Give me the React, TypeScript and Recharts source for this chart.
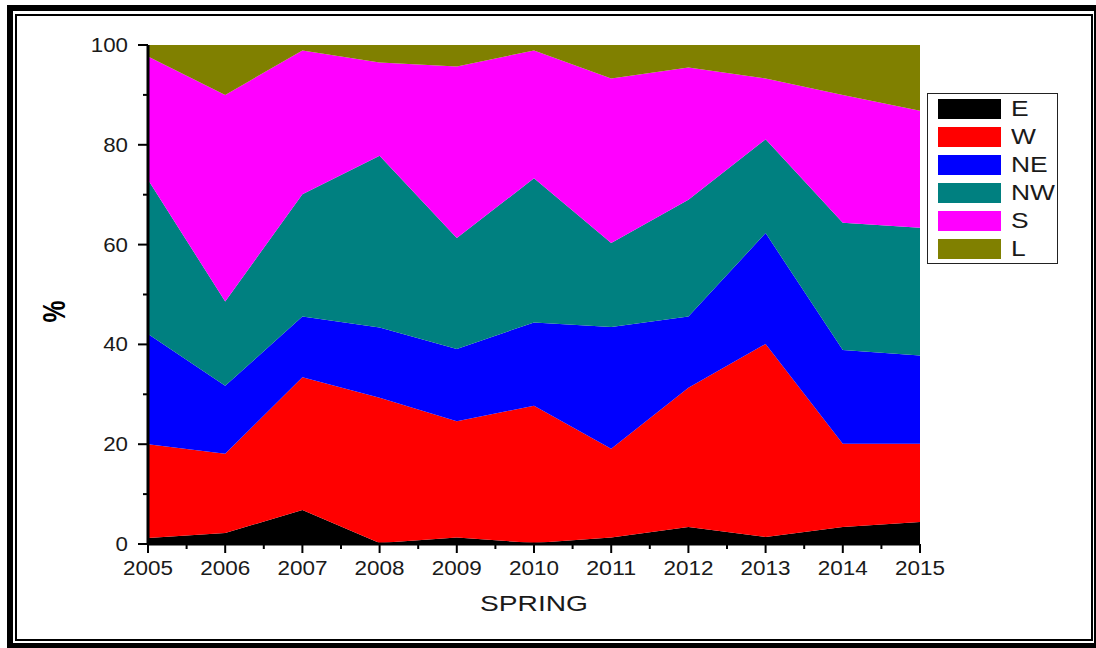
import React from "react";
import { AreaChart, Area, XAxis, YAxis, Label } from "recharts";

const years = [2005, 2006, 2007, 2008, 2009, 2010, 2011, 2012, 2013, 2014, 2015];
const E = [1.2, 2.2, 6.8, 0.2, 1.3, 0.2, 1.3, 3.4, 1.4, 3.4, 4.4];
const W = [18.8, 15.9, 26.6, 29.1, 23.3, 27.5, 17.8, 27.9, 38.7, 16.7, 15.7];
const NE = [22.1, 13.6, 12.2, 14.1, 14.5, 16.7, 24.4, 14.3, 22.2, 18.8, 17.7];
const NW = [30.9, 16.9, 24.5, 34.4, 22.2, 28.9, 16.8, 23.4, 18.8, 25.5, 25.6];
const S = [24.7, 41.4, 28.8, 18.7, 34.4, 25.6, 33.0, 26.5, 12.2, 25.6, 23.4];
const L = [2.3, 10.0, 1.1, 3.5, 4.3, 1.1, 6.7, 4.5, 6.7, 10.0, 13.2];

const seriesNames = ["E", "W", "NE", "NW", "S", "L"];
const seriesValues = [E, W, NE, NW, S, L];
const seriesColors = ["#000000", "#FF0000", "#0000FF", "#008080", "#FF00FF", "#808000"];

const xTicks = [2005, 2005.5, 2006, 2006.5, 2007, 2007.5, 2008, 2008.5, 2009, 2009.5, 2010, 2010.5, 2011, 2011.5, 2012, 2012.5, 2013, 2013.5, 2014, 2014.5, 2015];
const yTicks = [0, 10, 20, 30, 40, 50, 60, 70, 80, 90, 100];

const data = years.map((y, i) => {
  const row: any = { year: y };
  seriesNames.forEach((n, k) => {
    row[n] = seriesValues[k][i];
  });
  return row;
});

const FONT = "'Liberation Sans', Arial, Helvetica, sans-serif";

const XTick = (props: any) => {
  const { x, y, payload } = props;
  const v = payload.value;
  const major = Number.isInteger(v);
  return (
    <g>
      <line x1={x} x2={x} y1={y} y2={y + (major ? 9 : 5)} stroke="#000" strokeWidth={2} />
      {major && (
        <text
          x={x}
          y={y + 31}
          textAnchor="middle"
          fontSize={20}
          fontFamily={FONT}
          fill="#1a1a1a"
          textLength={50}
          lengthAdjust="spacingAndGlyphs"
        >
          {v}
        </text>
      )}
    </g>
  );
};

const YTick = (props: any) => {
  const { x, y, payload } = props;
  const v = payload.value;
  const major = v % 20 === 0;
  const s = String(v);
  return (
    <g>
      <line x1={x - (major ? 10 : 5)} x2={x} y1={y} y2={y} stroke="#000" strokeWidth={2} />
      {major && (
        <text
          x={x - 20}
          y={y + 7}
          textAnchor="end"
          fontSize={20}
          fontFamily={FONT}
          fill="#1a1a1a"
          textLength={12.4 * s.length}
          lengthAdjust="spacingAndGlyphs"
        >
          {s}
        </text>
      )}
    </g>
  );
};

const XLabel = (props: any) => {
  const vb = props.viewBox || { x: 0, y: 0, width: 0 };
  return (
    <text
      x={vb.x + vb.width / 2}
      y={vb.y + 67}
      textAnchor="middle"
      fontSize={22}
      fontFamily={FONT}
      fill="#1a1a1a"
      textLength={108}
      lengthAdjust="spacingAndGlyphs"
    >
      SPRING
    </text>
  );
};

const YLabel = (props: any) => {
  const vb = props.viewBox || { x: 0, y: 0, height: 0 };
  const cx = vb.x - 23;
  const cy = vb.y + vb.height / 2 + 17;
  return (
    <text
      x={cx}
      y={cy}
      transform={`rotate(-90 ${cx} ${cy})`}
      textAnchor="middle"
      fontSize={31}
      fontWeight="bold"
      fontFamily={FONT}
      fill="#000"
      textLength={22}
      lengthAdjust="spacingAndGlyphs"
    >
      %
    </text>
  );
};

const Legend = () => (
  <div
    style={{
      position: "absolute",
      left: 927,
      top: 93,
      width: 131,
      height: 171,
      border: "1px solid #222",
      background: "#fff",
      boxSizing: "border-box",
    }}
  >
    {seriesNames.map((n, i) => (
      <div
        key={n}
        style={{ position: "absolute", left: 10, top: 5 + i * 28, height: 20, display: "flex", alignItems: "center" }}
      >
        <div style={{ width: 63, height: 20, background: seriesColors[i] }} />
        <div
          style={{
            marginLeft: 10,
            fontFamily: FONT,
            fontSize: 22,
            color: "#1a1a1a",
            lineHeight: "20px",
            transform: "scaleX(1.2)",
            transformOrigin: "left center",
          }}
        >
          {n}
        </div>
      </div>
    ))}
  </div>
);

export default function App() {
  return (
    <div style={{ position: "absolute", left: 0, top: 0, width: 1096, height: 648, background: "#fff", overflow: "hidden" }}>
      <div style={{ position: "absolute", left: 7, top: 5, width: 1096, height: 640, border: "6px solid #000", boxSizing: "border-box", borderRight: "none", borderBottom: "none" }} />
      <div style={{ position: "absolute", left: 7, top: 643, width: 1096, height: 10, background: "#000" }} />
      <div style={{ position: "absolute", left: 1094, top: 5, width: 6, height: 648, background: "#000" }} />
      <div style={{ position: "absolute", left: 15, top: 14, width: 1078, height: 627, border: "2px solid #000", boxSizing: "border-box" }} />
      <div style={{ position: "absolute", left: 0, top: 0 }}>
        <AreaChart width={1096} height={648} data={data} margin={{ top: 45, right: 176, bottom: 74, left: 88 }}>
          <XAxis
            dataKey="year"
            type="number"
            domain={[2005, 2015]}
            ticks={xTicks}
            interval={0}
            tickSize={0}
            tickMargin={0}
            tick={<XTick />}
            axisLine={{ stroke: "#000", strokeWidth: 3 }}
            height={30}
          >
            <Label content={<XLabel />} />
          </XAxis>
          <YAxis
            type="number"
            domain={[0, 100]}
            ticks={yTicks}
            interval={0}
            tickSize={0}
            tickMargin={0}
            tick={<YTick />}
            axisLine={{ stroke: "#000", strokeWidth: 3 }}
            width={60}
          >
            <Label content={<YLabel />} />
          </YAxis>
          {seriesNames.map((n, i) => (
            <Area
              key={n}
              type="linear"
              dataKey={n}
              stackId="1"
              stroke="none"
              fill={seriesColors[i]}
              fillOpacity={1}
              isAnimationActive={false}
              dot={false}
              activeDot={false}
            />
          ))}
        </AreaChart>
      </div>
      <Legend />
    </div>
  );
}
